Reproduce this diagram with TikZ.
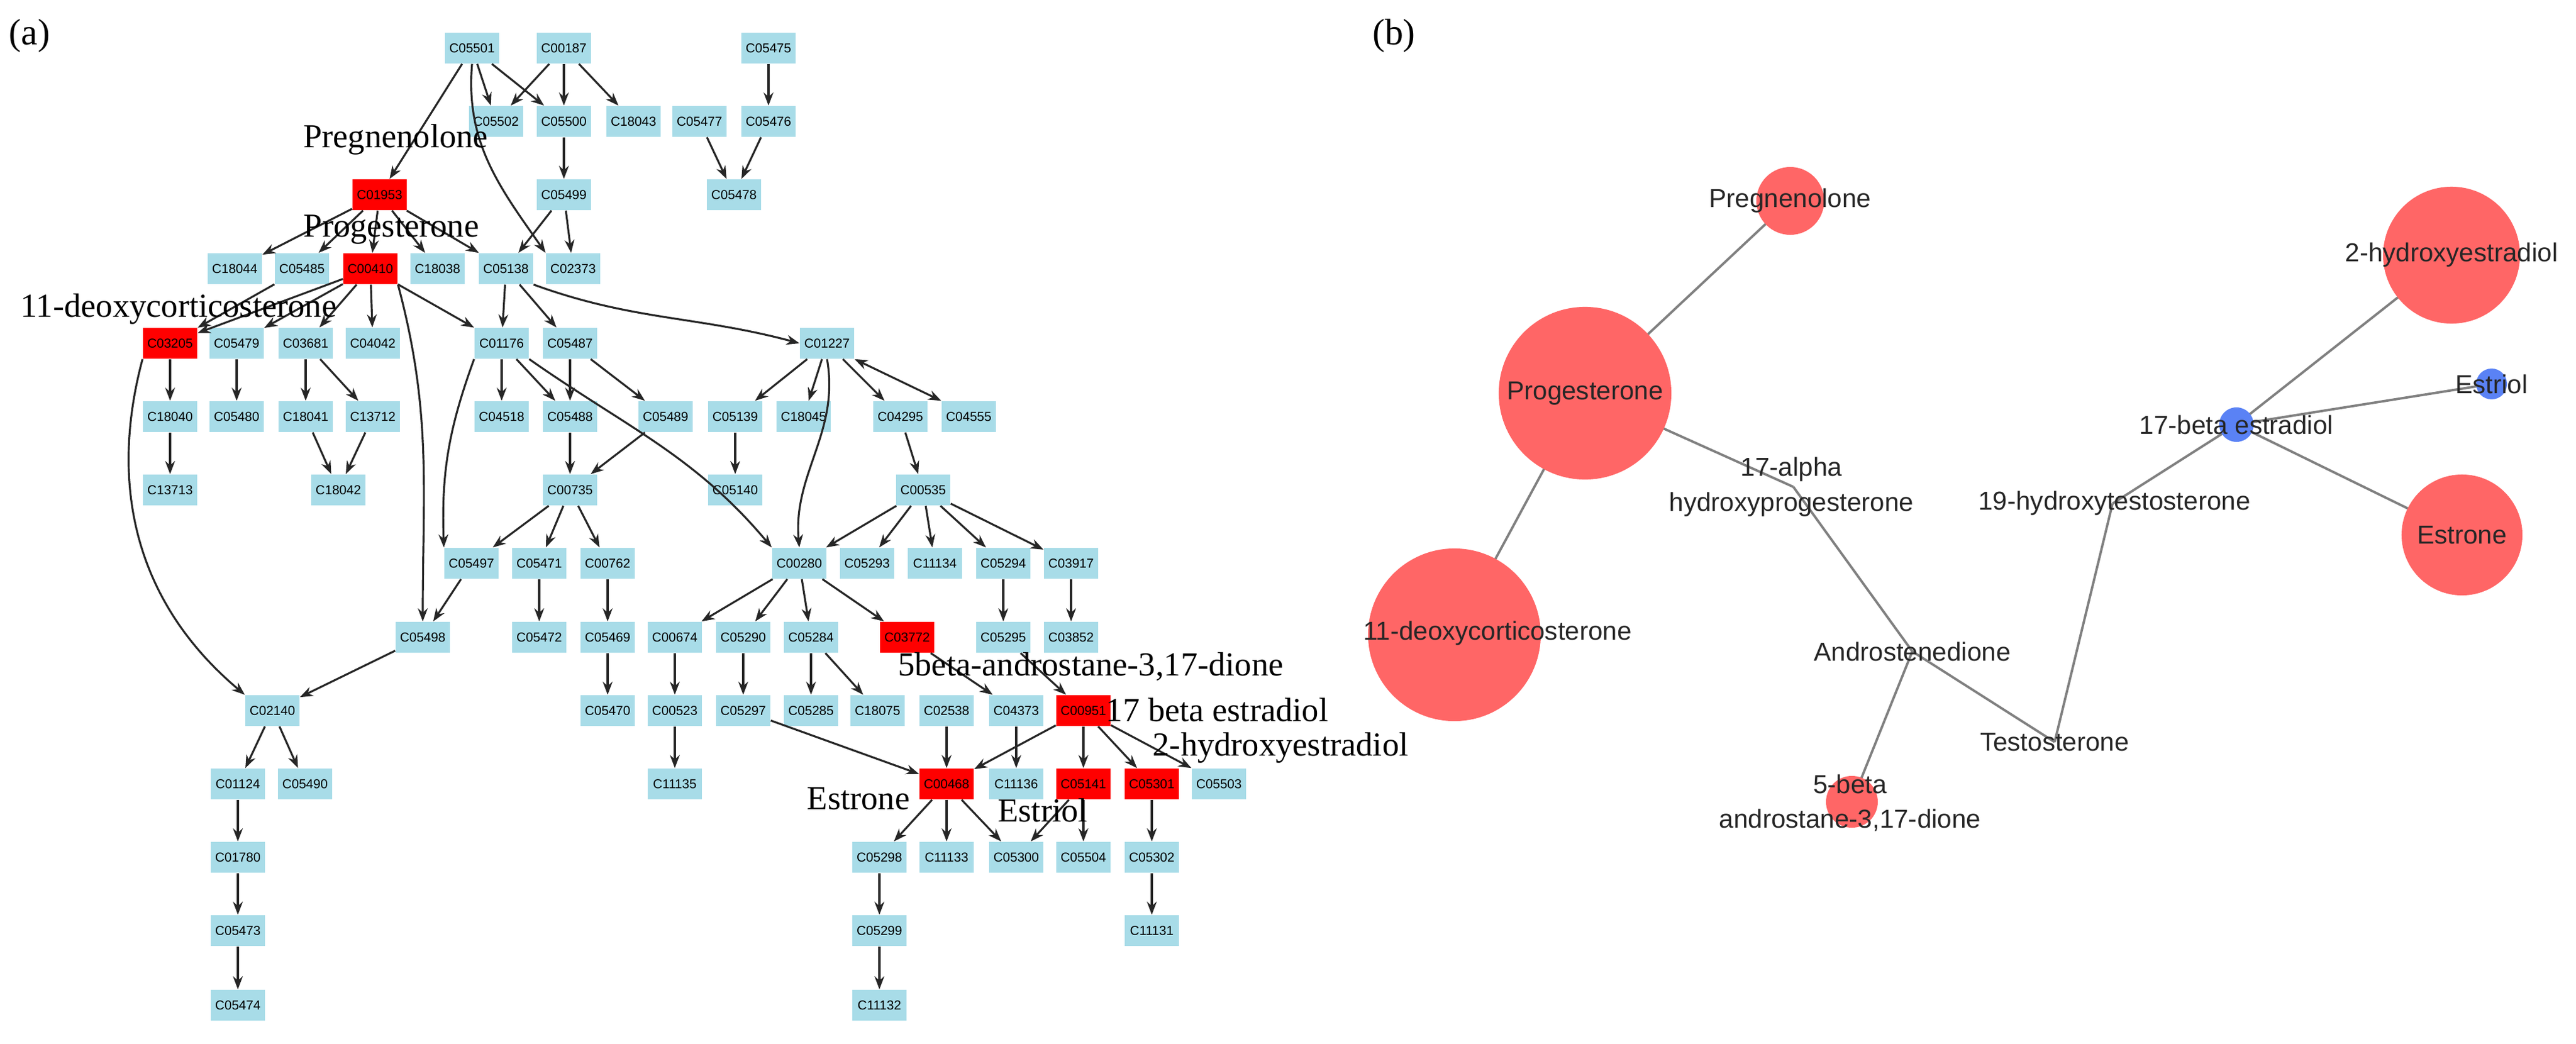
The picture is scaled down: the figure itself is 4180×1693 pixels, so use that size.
\documentclass[tikz,border=0pt]{standalone}
\usepackage{fontspec}
\setmainfont{Liberation Serif}
\setsansfont{Liberation Sans}
\usetikzlibrary{arrows.meta}
\definecolor{boxblue}{RGB}{168,220,232}
\definecolor{cred}{RGB}{255,102,102}
\definecolor{cblue}{RGB}{90,130,245}
\begin{document}
\begin{tikzpicture}[x=0.01cm,y=-0.01cm,
  cb/.style={fill=boxblue, minimum width=0.88cm, minimum height=0.5cm, inner sep=0pt, font=\fontsize{6}{7}\selectfont\sffamily},
  cr/.style={cb, fill=red},
  e/.style={-{Stealth[length=6pt,width=4.5pt]}, line width=0.9pt, black!85},
  lab/.style={font=\fontsize{15.5}{17}\selectfont},
  bl/.style={draw=gray, line width=1.1pt},
  bt/.style={font=\fontsize{12}{14}\selectfont\sffamily, text=black!85, align=center, inner sep=0pt},
  rc/.style={circle, fill=cred, inner sep=0pt},
  bc/.style={circle, fill=cblue, inner sep=0pt}]
\useasboundingbox (0,0) rectangle (4180,1693);
\node[font=\fontsize{17}{19}\selectfont] (pa) at (48,58) {(a)};
\node[font=\fontsize{17}{19}\selectfont] (pb) at (2262,58) {(b)};
% row 0
\node[cb] (n05501) at (766,78) {C05501};
\node[cb] (n00187) at (915,78) {C00187};
\node[cb] (n05475) at (1247,78) {C05475};
% row 1
\node[cb] (n05502) at (805,197) {C05502};
\node[cb] (n05500) at (915,197) {C05500};
\node[cb] (n18043) at (1028,197) {C18043};
\node[cb] (n05477) at (1135,197) {C05477};
\node[cb] (n05476) at (1247,197) {C05476};
% row 2
\node[cr] (n01953) at (616,316) {C01953};
\node[cb] (n05499) at (915,316) {C05499};
\node[cb] (n05478) at (1191,316) {C05478};
% row 3
\node[cb] (n18044) at (381,436) {C18044};
\node[cb] (n05485) at (490,436) {C05485};
\node[cr] (n00410) at (601,436) {C00410};
\node[cb] (n18038) at (710,436) {C18038};
\node[cb] (n05138) at (821,436) {C05138};
\node[cb] (n02373) at (930,436) {C02373};
% row 4
\node[cr] (n03205) at (276,557) {C03205};
\node[cb] (n05479) at (384,557) {C05479};
\node[cb] (n03681) at (496,557) {C03681};
\node[cb] (n04042) at (605,557) {C04042};
\node[cb] (n01176) at (814,557) {C01176};
\node[cb] (n05487) at (925,557) {C05487};
\node[cb] (n01227) at (1342,557) {C01227};
% row 5
\node[cb] (n18040) at (276,676) {C18040};
\node[cb] (n05480) at (384,676) {C05480};
\node[cb] (n18041) at (496,676) {C18041};
\node[cb] (n13712) at (605,676) {C13712};
\node[cb] (n04518) at (814,676) {C04518};
\node[cb] (n05488) at (925,676) {C05488};
\node[cb] (n05489) at (1080,676) {C05489};
\node[cb] (n05139) at (1193,676) {C05139};
\node[cb] (n18045) at (1304,676) {C18045};
\node[cb] (n04295) at (1461,676) {C04295};
\node[cb] (n04555) at (1572,676) {C04555};
% row 6
\node[cb] (n13713) at (276,795) {C13713};
\node[cb] (n18042) at (549,795) {C18042};
\node[cb] (n00735) at (925,795) {C00735};
\node[cb] (n05140) at (1193,795) {C05140};
\node[cb] (n00535) at (1498,795) {C00535};
% row 7
\node[cb] (n05497) at (765,914) {C05497};
\node[cb] (n05471) at (875,914) {C05471};
\node[cb] (n00762) at (986,914) {C00762};
\node[cb] (n00280) at (1297,914) {C00280};
\node[cb] (n05293) at (1407,914) {C05293};
\node[cb] (n11134) at (1517,914) {C11134};
\node[cb] (n05294) at (1628,914) {C05294};
\node[cb] (n03917) at (1738,914) {C03917};
% row 8
\node[cb] (n05498) at (686,1034) {C05498};
\node[cb] (n05472) at (875,1034) {C05472};
\node[cb] (n05469) at (986,1034) {C05469};
\node[cb] (n00674) at (1095,1034) {C00674};
\node[cb] (n05290) at (1206,1034) {C05290};
\node[cb] (n05284) at (1316,1034) {C05284};
\node[cr] (n03772) at (1472,1034) {C03772};
\node[cb] (n05295) at (1628,1034) {C05295};
\node[cb] (n03852) at (1738,1034) {C03852};
% row 9
\node[cb] (n02140) at (442,1153) {C02140};
\node[cb] (n05470) at (986,1153) {C05470};
\node[cb] (n00523) at (1095,1153) {C00523};
\node[cb] (n05297) at (1206,1153) {C05297};
\node[cb] (n05285) at (1316,1153) {C05285};
\node[cb] (n18075) at (1424,1153) {C18075};
\node[cb] (n02538) at (1536,1153) {C02538};
\node[cb] (n04373) at (1649,1153) {C04373};
\node[cr] (n00951) at (1758,1153) {C00951};
% row 10
\node[cb] (n01124) at (386,1272) {C01124};
\node[cb] (n05490) at (495,1272) {C05490};
\node[cb] (n11135) at (1095,1272) {C11135};
\node[cr] (n00468) at (1536,1272) {C00468};
\node[cb] (n11136) at (1649,1272) {C11136};
\node[cr] (n05141) at (1758,1272) {C05141};
\node[cr] (n05301) at (1869,1272) {C05301};
\node[cb] (n05503) at (1978,1272) {C05503};
% row 11
\node[cb] (n01780) at (386,1391) {C01780};
\node[cb] (n05298) at (1427,1391) {C05298};
\node[cb] (n11133) at (1536,1391) {C11133};
\node[cb] (n05300) at (1649,1391) {C05300};
\node[cb] (n05504) at (1758,1391) {C05504};
\node[cb] (n05302) at (1869,1391) {C05302};
% rows 12-13
\node[cb] (n05473) at (386,1510) {C05473};
\node[cb] (n05299) at (1427,1510) {C05299};
\node[cb] (n11131) at (1869,1510) {C11131};
\node[cb] (n05474) at (386,1631) {C05474};
\node[cb] (n11132) at (1427,1631) {C11132};
% edges
\draw[e] (n05501) -- (n01953);
\draw[e] (n05501) -- (n05502);
\draw[e] (n05501) -- (n05500);
\draw[e] (n05501.south) to[out=-95,in=125] (n02373.north west);
\draw[e] (n00187) -- (n05502);
\draw[e] (n00187) -- (n05500);
\draw[e] (n00187) -- (n18043);
\draw[e] (n05475) -- (n05476);
\draw[e] (n05477) -- (n05478);
\draw[e] (n05476) -- (n05478);
\draw[e] (n05500) -- (n05499);
\draw[e] (n05499) -- (n05138);
\draw[e] (n05499) -- (n02373);
\draw[e] (n01953) -- (n18044);
\draw[e] (n01953) -- (n05485);
\draw[e] (n01953) -- (n00410);
\draw[e] (n01953) -- (n18038);
\draw[e] (n01953) -- (n05138);
\draw[e] (n05485) -- (n03205);
\draw[e] (n00410) -- (n03205);
\draw[e] (n00410) -- (n05479);
\draw[e] (n00410) -- (n03681);
\draw[e] (n00410) -- (n04042);
\draw[e] (n00410) -- (n01176);
\draw[e] (n00410.south east) to[out=-75,in=90] (n05498.north);
\draw[e] (n05138) -- (n01176);
\draw[e] (n05138) -- (n05487);
\draw[e] (n05138.south east) to[out=-20,in=165] (n01227.west);
\draw[e] (n03205) -- (n18040);
\draw[e] (n03205.south west) to[out=-105,in=140] (n02140.north west);
\draw[e] (n05479) -- (n05480);
\draw[e] (n03681) -- (n18041);
\draw[e] (n03681) -- (n13712);
\draw[e] (n18040) -- (n13713);
\draw[e] (n18041) -- (n18042);
\draw[e] (n13712) -- (n18042);
\draw[e] (n01176.south west) to[out=-110,in=92] (n05497.north west);
\draw[e] (n01176) -- (n04518);
\draw[e] (n01176) -- (n05488);
\draw[e] (n01176.south east) to[out=-35,in=130] (n00280.north west);
\draw[e] (n05487) -- (n05488);
\draw[e] (n05487) -- (n05489);
\draw[e] (n05488) -- (n00735);
\draw[e] (n05489) -- (n00735);
\draw[e] (n00735) -- (n05497);
\draw[e] (n00735) -- (n05471);
\draw[e] (n00735) -- (n00762);
\draw[e] (n05497) -- (n05498);
\draw[e] (n05498) -- (n02140);
\draw[e] (n05471) -- (n05472);
\draw[e] (n00762) -- (n05469);
\draw[e] (n05469) -- (n05470);
\draw[e] (n01227) -- (n05139);
\draw[e] (n01227) -- (n18045);
\draw[e] (n01227.south) to[out=-80,in=95] (n00280.north);
\draw[e] (n01227) -- (n04295);
\draw[e,{Stealth[length=6pt,width=4.5pt]}-{Stealth[length=6pt,width=4.5pt]}] (n01227.south east) -- (n04555.north west);
\draw[e] (n05139) -- (n05140);
\draw[e] (n04295) -- (n00535);
\draw[e] (n00535) -- (n00280);
\draw[e] (n00535) -- (n05293);
\draw[e] (n00535) -- (n11134);
\draw[e] (n00535) -- (n05294);
\draw[e] (n00535) -- (n03917);
\draw[e] (n00280) -- (n00674);
\draw[e] (n00280) -- (n05290);
\draw[e] (n00280) -- (n05284);
\draw[e] (n00280) -- (n03772);
\draw[e] (n05294) -- (n05295);
\draw[e] (n03917) -- (n03852);
\draw[e] (n00674) -- (n00523);
\draw[e] (n05290) -- (n05297);
\draw[e] (n05284) -- (n05285);
\draw[e] (n05284) -- (n18075);
\draw[e] (n03772) -- (n04373);
\draw[e] (n05295) -- (n00951);
\draw[e] (n00523) -- (n11135);
\draw[e] (n05297) -- (n00468);
\draw[e] (n02538) -- (n00468);
\draw[e] (n04373) -- (n11136);
\draw[e] (n00951) -- (n00468);
\draw[e] (n00951) -- (n05141);
\draw[e] (n00951) -- (n05301);
\draw[e] (n00951) -- (n05503.north west);
\draw[e] (n00468) -- (n05298);
\draw[e] (n00468) -- (n11133);
\draw[e] (n00468) -- (n05300);
\draw[e] (n05141) -- (n05300);
\draw[e] (n05141) -- (n05504);
\draw[e] (n05301) -- (n05302);
\draw[e] (n02140) -- (n01124);
\draw[e] (n02140) -- (n05490);
\draw[e] (n01124) -- (n01780);
\draw[e] (n01780) -- (n05473);
\draw[e] (n05473) -- (n05474);
\draw[e] (n05298) -- (n05299);
\draw[e] (n05299) -- (n11132);
\draw[e] (n05302) -- (n11131);
% labels (a)
\node[lab] (lpreg) at (642,226) {Pregnenolone};
\node[lab] (lprog) at (635,373) {Progesterone};
\node[lab] (ldeox) at (290,501) {11-deoxycorticosterone};
\node[lab] (land) at (1770,1082) {5beta-androstane-3,17-dione};
\node[lab] (lest) at (1975,1152) {17 beta estradiol};
\node[lab] (lhyd) at (2078,1213) {2-hydroxyestradiol};
\node[lab] (lestr) at (1393,1296) {Estrone};
\node[lab] (lestl) at (1692,1315) {Estriol};
% panel (b)
\coordinate (bpreg) at (2905,326);
\coordinate (bprog) at (2572,638);
\coordinate (bdeox) at (2360,1030);
\coordinate (balph) at (2910,790);
\coordinate (bandr) at (3103,1057);
\coordinate (btest) at (3334,1204);
\coordinate (bfive) at (3005,1301);
\coordinate (bnine) at (3428,817);
\coordinate (bbeta) at (3629,689);
\coordinate (bhyd) at (3978,414);
\coordinate (bestl) at (4043,623);
\coordinate (bestr) at (3995,868);
\draw[bl] (bpreg) -- (bprog);
\draw[bl] (bprog) -- (bdeox);
\draw[bl] (bprog) -- (balph);
\draw[bl] (balph) -- (bandr);
\draw[bl] (bandr) -- (bfive);
\draw[bl] (bandr) -- (btest);
\draw[bl] (btest) -- (bnine);
\draw[bl] (bnine) -- (bbeta);
\draw[bl] (bbeta) -- (bhyd);
\draw[bl] (bbeta) -- (bestl);
\draw[bl] (bbeta) -- (bestr);
\node[rc, minimum size=1.1cm] (cpreg) at (bpreg) {};
\node[rc, minimum size=2.8cm] (cprog) at (bprog) {};
\node[rc, minimum size=2.8cm] (cdeox) at (bdeox) {};
\node[rc, minimum size=0.84cm] (cfive) at (bfive) {};
\node[bc, minimum size=0.56cm] (cbeta) at (bbeta) {};
\node[rc, minimum size=2.22cm] (chyd) at (bhyd) {};
\node[bc, minimum size=0.5cm] (cestl) at (bestl) {};
\node[rc, minimum size=1.96cm] (cestr) at (bestr) {};
\node[bt] (tpreg) at (bpreg) {Pregnenolone};
\node[bt] (tprog) at (bprog) {Progesterone};
\node[bt] (tdeox) at (2430,1028) {11-deoxycorticosterone};
\node[bt] (talph) at (2907,790) {17-alpha\\[2pt]hydroxyprogesterone};
\node[bt] (tandr) at (bandr) {Androstenedione};
\node[bt] (ttest) at (btest) {Testosterone};
\node[bt] (tfive) at (3002,1303) {5-beta\\[2pt]androstane-3,17-dione};
\node[bt] (tnine) at (3431,817) {19-hydroxytestosterone};
\node[bt] (tbeta) at (bbeta) {17-beta estradiol};
\node[bt] (thyd) at (bhyd) {2-hydroxyestradiol};
\node[bt] (testl) at (bestl) {Estriol};
\node[bt] (testr) at (bestr) {Estrone};
\end{tikzpicture}
\end{document}
